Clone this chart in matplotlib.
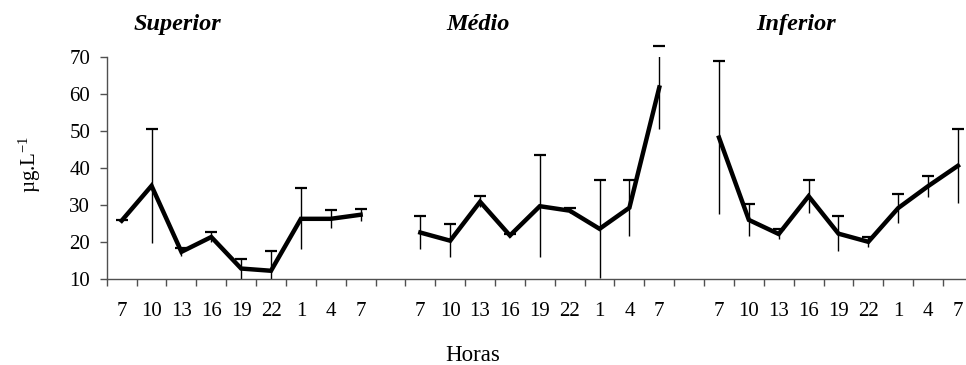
import matplotlib
matplotlib.use("Agg")
import matplotlib.pyplot as plt
import numpy as np

plt.rcParams["font.family"] = "Liberation Serif"
plt.rcParams["mathtext.fontset"] = "custom"
plt.rcParams["mathtext.rm"] = "Liberation Serif"
plt.rcParams["mathtext.it"] = "Liberation Serif:italic"

# Sampling hours (same sequence for each depth)
hours = ["7", "10", "13", "16", "19", "22", "1", "4", "7"]
depths = ["Superior", "Médio", "Inferior"]

# Means and standard deviations (µg/L)
superior_mean = [25.8, 35.2, 17.4, 21.4, 12.9, 12.3, 26.3, 26.3, 27.4]
superior_sd = [0.2, 15.3, 1.0, 1.3, 2.7, 5.4, 8.2, 2.4, 1.6]
medio_mean = [22.6, 20.4, 30.9, 21.8, 29.7, 28.5, 23.6, 29.3, 61.7]
medio_sd = [4.4, 4.5, 1.5, 0.3, 13.7, 0.7, 13.2, 7.5, 11.3]
inferior_mean = [48.2, 26.0, 22.2, 32.4, 22.3, 20.1, 29.2, 35.1, 40.6]
inferior_sd = [20.7, 4.3, 1.3, 4.4, 4.7, 1.4, 3.9, 2.8, 10.0]

series = [(superior_mean, superior_sd), (medio_mean, medio_sd), (inferior_mean, inferior_sd)]

fig = plt.figure(figsize=(9.66, 3.65), dpi=100)
ax = fig.add_axes([0.1105, 0.2348, 1 - 0.1105, 0.8447 - 0.2348])

n = len(hours)
step = n + 1  # one empty slot between depth groups
title_x = [0.184, 0.495, 0.824]
centers = []
labels = []
for g, ((mean, sd), name) in enumerate(zip(series, depths)):
    mean = np.asarray(mean)
    sd = np.asarray(sd)
    x = np.arange(n) + g * step
    ax.vlines(x, mean - sd, mean + sd, color="black", lw=1.0, zorder=2)
    ax.plot(x, mean + sd, ls="none", marker="_", ms=9, mew=1.6,
            color="black", clip_on=False, zorder=2)
    ax.plot(x, mean, color="black", lw=3.2, solid_joinstyle="miter", zorder=3)
    fig.text(title_x[g], 1 - 30 / 365, name, ha="center", va="baseline",
             fontsize=17.5, fontweight="bold", fontstyle="italic")
    centers.extend(x)
    labels.extend(hours)

ax.set_yticks(np.arange(10, 71, 10))

# boundary ticks (unlabelled) and category labels at the centres
ax.set_xticks(np.arange(-0.5, 3 * step, 1))
ax.set_xticklabels([])
ax.set_xticks(centers, minor=True)
ax.set_xticklabels(labels, minor=True)

ax.set_ylim(10, 70)
ax.set_xlim(-0.5, 28.27)

axis_color = "#505050"
for side in ("top", "right"):
    ax.spines[side].set_visible(False)
for side in ("left", "bottom"):
    ax.spines[side].set_color(axis_color)
    ax.spines[side].set_linewidth(1.0)

ax.tick_params(axis="both", which="major", direction="out", length=5,
               width=1.0, color=axis_color)
ax.tick_params(axis="y", labelsize=15, pad=7)
ax.tick_params(axis="x", which="minor", length=0, labelsize=15, pad=16)

fig.text(0.031, 0.551, "µg.L$^{-1}$", rotation=90, ha="center", va="center",
         fontsize=15)
fig.text(0.489, 1 - 361 / 365, "Horas", ha="center", va="baseline", fontsize=16.5)

fig.savefig("out.png", dpi=100)
